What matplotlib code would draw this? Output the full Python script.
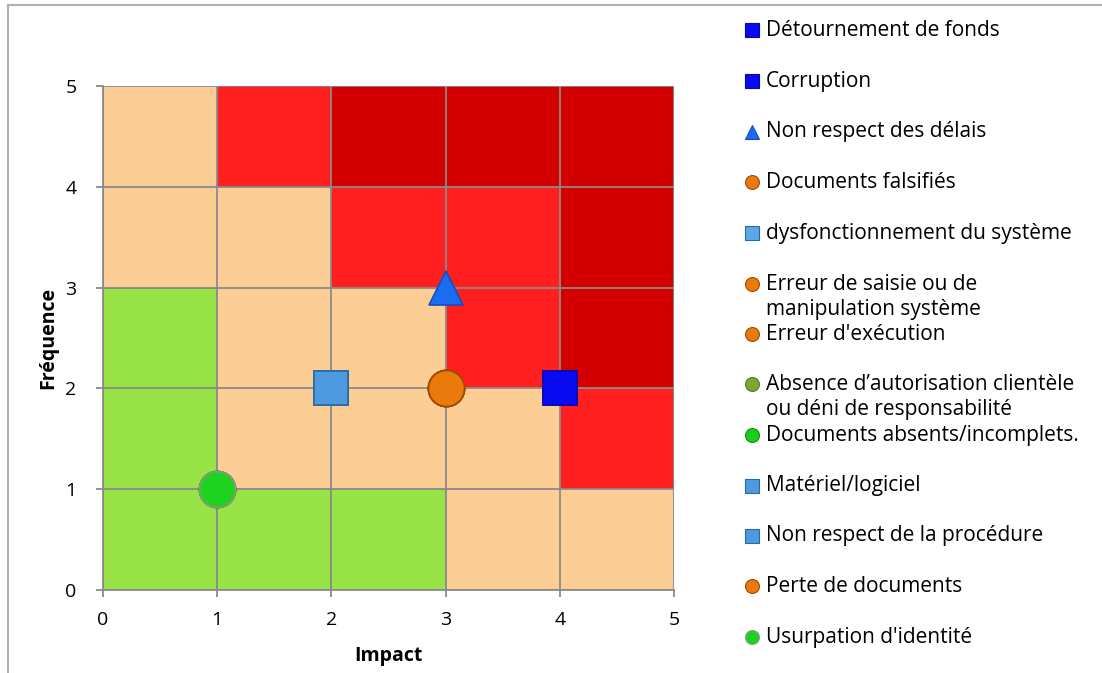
import matplotlib
matplotlib.use('Agg')
import matplotlib.pyplot as plt
from matplotlib.colors import ListedColormap
from matplotlib.lines import Line2D
import numpy as np

plt.rcParams['font.family'] = ['Open Sans', 'DejaVu Sans']

# risk level of each cell, rows = frequency 0-1 .. 4-5, cols = impact 0-1 .. 4-5
# 0 = low (green), 1 = medium (peach), 2 = high (red), 3 = critical (dark red)
risk_grid = [
    [0, 0, 0, 1, 1],
    [0, 1, 1, 1, 2],
    [0, 1, 1, 2, 3],
    [1, 1, 2, 2, 3],
    [1, 2, 3, 3, 3],
]
level_colors = ['#98e346', '#fdcd96', '#ff1f1f', '#d40000']

risks = [
    'Détournement de fonds',
    'Corruption',
    'Non respect des délais',
    'Documents falsifiés',
    'dysfonctionnement du système',
    'Erreur de saisie ou de\nmanipulation système',
    "Erreur d'exécution",
    'Absence d’autorisation clientèle\nou déni de responsabilité',
    'Documents absents/incomplets.',
    'Matériel/logiciel',
    'Non respect de la procédure',
    'Perte de documents',
    "Usurpation d'identité",
]
impact = [4, 4, 3, 3, 2, 3, 3, 1, 1, 2, 2, 3, 1]
frequence = [2, 2, 3, 2, 2, 2, 2, 1, 1, 2, 2, 2, 1]
markers = ['s', 's', '^', 'o', 's', 'o', 'o', 'o', 'o', 's', 's', 'o', 'o']
colors = ['#0a0af0', '#0a0af0', '#1a6cf0', '#ea7a0c', '#5aa8e8', '#ea7a0c',
          '#ea7a0c', '#7ea636', '#18d018', '#4d9ae0', '#4d9ae0', '#ea7a0c', '#1fd21f']
edges = ['#0606b0', '#0606b0', '#1050c0', '#a04a00', '#2a6aa0', '#a04a00',
         '#a04a00', '#5a7a20', '#108a10', '#2a6aa0', '#2a6aa0', '#a04a00', '#8a9a80']

fig = plt.figure(figsize=(11.02, 6.73), dpi=100)

# frame lines (top and left)
fig.add_artist(Line2D([8 / 1102, 1], [1 - 5 / 673, 1 - 5 / 673], color='#b0b0b0', lw=1.5))
fig.add_artist(Line2D([8 / 1102, 8 / 1102], [0, 1 - 5 / 673], color='#b0b0b0', lw=1.5))

ax = fig.add_axes([103 / 1102, 83 / 673, 571 / 1102, 504 / 673])
edges_x = np.arange(0, 6)
edges_y = np.arange(0, 6)
ax.pcolormesh(edges_x, edges_y, np.array(risk_grid), cmap=ListedColormap(level_colors),
              vmin=-0.5, vmax=3.5, zorder=0)

for x, y, m, c, e in zip(impact, frequence, markers, colors, edges):
    size = 26 if m == 'o' else 24
    ax.plot(x, y, marker=m, markersize=size, color=c, markeredgecolor=e,
            markeredgewidth=1.2, linestyle='none', zorder=3, clip_on=False)

ax.set_xlim(0, 5)
ax.set_ylim(0, 5)
ax.set_xticks(range(6))
ax.set_yticks(range(6))
ax.grid(True, color='#8a8a8a', linewidth=1.3, zorder=1)
ax.set_axisbelow(False)
for s in ['top', 'right']:
    ax.spines[s].set_visible(False)
for s in ['left', 'bottom']:
    ax.spines[s].set_color('#8a8a8a')
    ax.spines[s].set_linewidth(1.3)
ax.tick_params(colors='#8a8a8a', labelcolor='black', labelsize=14, length=5, width=1.3)
ax.tick_params(axis='x', pad=10)
ax.tick_params(axis='y', pad=14)
ax.set_xlabel('Impact', fontsize=14, fontweight='bold', labelpad=12)
ax.set_ylabel('Fréquence', fontsize=14, fontweight='bold', labelpad=5)

# legend drawn in pixel coordinates on the right
lax = fig.add_axes([0, 0, 1, 1])
lax.set_xlim(0, 1102)
lax.set_ylim(673, 0)
lax.axis('off')
lax.patch.set_alpha(0)
rows_y = [30, 81, 132, 182, 233, 284, 334, 384, 435, 486, 536, 586, 637]
for label, y, m, c, e in zip(risks, rows_y, markers, colors, edges):
    lax.plot(752, y, marker=m, markersize=10, color=c, markeredgecolor=e,
             markeredgewidth=0.8, linestyle='none')
    for i, line in enumerate(label.split('\n')):
        lax.text(766, y + i * 25, line, fontsize=15, va='center', ha='left')

fig.savefig('out.png', dpi=100)
